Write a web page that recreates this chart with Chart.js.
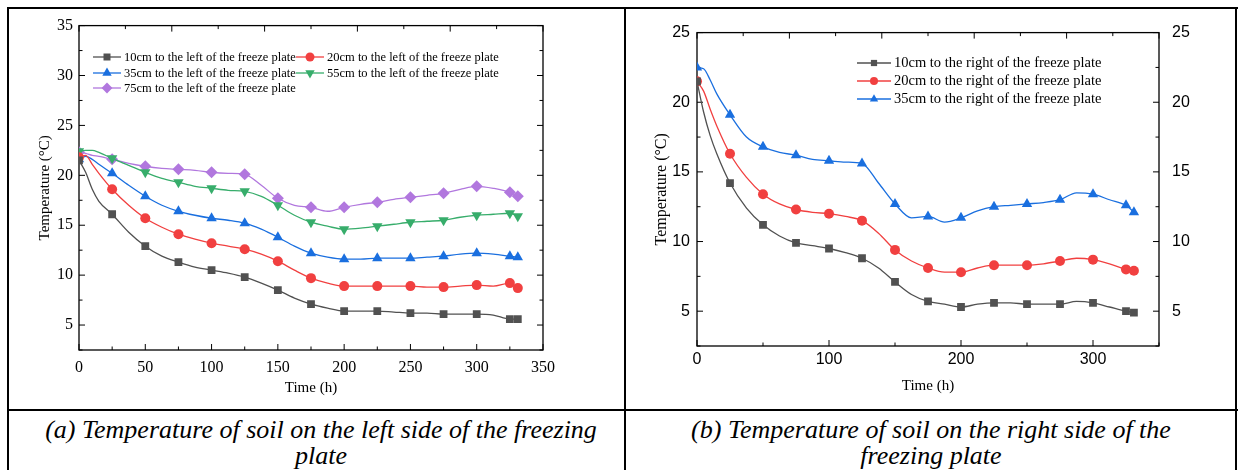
<!DOCTYPE html>
<html>
<head>
<meta charset="utf-8">
<script src="https://cdn.jsdelivr.net/npm/chart.js@4.4.1/dist/chart.umd.min.js"></script>
<style>
  body { margin: 0; background: #fff; }
  #page { position: relative; width: 1238px; height: 470px; overflow: hidden; background: #fff;
          font-family: "Liberation Serif", "Times New Roman", serif; }
  .hl { position: absolute; background: #000; height: 2px; }
  .vl { position: absolute; background: #000; width: 2px; }
  .cap { position: absolute; top: 417px; font-style: italic; font-size: 26px; line-height: 26px; text-align: center; color: #000; }
  #boxA { position: absolute; left: 10px; top: 10px; width: 612px; height: 398px; }
  #boxB { position: absolute; left: 627px; top: 10px; width: 608px; height: 398px; }
</style>
</head>
<body>
<div id="page">
  <div class="hl" style="left:8px;top:7px;width:1230px"></div>
  <div class="hl" style="left:8px;top:409px;width:1230px"></div>
  <div class="vl" style="left:7px;top:7px;height:463px"></div>
  <div class="vl" style="left:624px;top:7px;height:463px"></div>
  <div class="vl" style="left:1235px;top:7px;height:463px"></div>
  <div id="boxA"><canvas id="chartA" width="612" height="398"></canvas></div>
  <div id="boxB"><canvas id="chartB" width="608" height="398"></canvas></div>
  <div class="cap" style="left:14px;width:614px">(a) Temperature of soil on the left side of the freezing<br>plate</div>
  <div class="cap" style="left:627px;width:608px">(b) Temperature of soil on the right side of the<br>freezing plate</div>
</div>
<script>
// sampling times (h), shared by all curves
const hours = [0, 5, 10, 15, 25, 37.5, 50, 62.5, 75, 87.5, 100, 112.5, 125, 137.5, 150, 162.5, 175, 187.5, 200, 212.5, 225, 237.5, 250, 262.5, 275, 287.5, 300, 312.5, 325, 331];

// (a) left side of the freezing plate
const left10 = [21.5, 20.3, 18.6, 17.4, 16.1, 14.3, 12.9, 11.9, 11.3, 10.8, 10.5, 10.2, 9.8, 9.2, 8.5, 7.7, 7.1, 6.7, 6.4, 6.4, 6.4, 6.3, 6.2, 6.2, 6.1, 6.1, 6.1, 6.0, 5.6, 5.6];
const left20 = [21.8, 22.0, 21.1, 20.2, 18.6, 17.0, 15.7, 14.8, 14.1, 13.6, 13.2, 12.9, 12.6, 12.1, 11.4, 10.5, 9.7, 9.2, 8.9, 8.9, 8.9, 8.9, 8.9, 8.8, 8.8, 8.9, 9.0, 8.9, 9.2, 8.7];
const left35 = [21.6, 21.9, 21.6, 21.1, 20.2, 19.0, 17.9, 17.0, 16.4, 16.0, 15.7, 15.5, 15.2, 14.6, 13.8, 12.9, 12.2, 11.8, 11.6, 11.6, 11.7, 11.7, 11.7, 11.8, 11.9, 12.1, 12.2, 12.1, 11.9, 11.8];
const left55 = [22.4, 22.5, 22.5, 22.3, 21.7, 21.0, 20.3, 19.7, 19.3, 18.9, 18.7, 18.5, 18.4, 17.9, 17.0, 16.0, 15.3, 14.9, 14.6, 14.7, 14.9, 15.1, 15.3, 15.4, 15.5, 15.8, 16.0, 16.1, 16.2, 15.9];
const left75 = [22.3, 22.2, 22.0, 21.9, 21.6, 21.2, 20.9, 20.7, 20.6, 20.5, 20.3, 20.2, 20.1, 19.0, 17.7, 17.0, 16.8, 16.4, 16.8, 17.1, 17.3, 17.6, 17.8, 18.0, 18.2, 18.6, 18.9, 18.7, 18.3, 17.9];

// (b) right side of the freezing plate
const right10 = [21.5, 19.3, 17.6, 16.3, 14.2, 12.4, 11.2, 10.4, 9.9, 9.7, 9.5, 9.2, 8.8, 8.1, 7.1, 6.2, 5.7, 5.5, 5.3, 5.5, 5.6, 5.6, 5.5, 5.5, 5.5, 5.7, 5.6, 5.3, 5.0, 4.9];
const right20 = [21.5, 20.8, 19.5, 18.3, 16.3, 14.6, 13.4, 12.7, 12.3, 12.1, 12.0, 11.8, 11.5, 10.6, 9.4, 8.6, 8.1, 7.8, 7.8, 8.1, 8.3, 8.3, 8.3, 8.4, 8.6, 8.8, 8.7, 8.4, 8.0, 7.9];
const right35 = [22.5, 22.4, 21.6, 20.6, 19.1, 17.5, 16.8, 16.4, 16.2, 15.9, 15.8, 15.7, 15.6, 14.2, 12.7, 11.7, 11.8, 11.4, 11.7, 12.2, 12.5, 12.6, 12.7, 12.8, 13.0, 13.5, 13.4, 13.0, 12.6, 12.1];

const leftNames = ['10cm to the left of the freeze plate', '20cm to the left of the freeze plate',
                   '35cm to the left of the freeze plate', '55cm to the left of the freeze plate',
                   '75cm to the left of the freeze plate'];
const rightNames = ['10cm to the right of the freeze plate', '20cm to the right of the freeze plate',
                    '35cm to the right of the freeze plate'];

const SERIF = '"Liberation Serif", "Times New Roman", serif';
const SANS = '"Liberation Sans", Arial, sans-serif';

const styles = [
  { color: '#515151', pointStyle: 'rect', r: 5.5, rot: 0 },
  { color: '#f14040', pointStyle: 'circle', r: 5, rot: 0 },
  { color: '#1a6fdf', pointStyle: 'triangle', r: 6, rot: 0 },
  { color: '#37ad6b', pointStyle: 'triangle', r: 6, rot: 180 },
  { color: '#b177de', pointStyle: 'rectRot', r: 6, rot: 0 }
];

// markers every 25 h plus the last reading
const hasMarker = i => hours[i] % 25 === 0 || i === hours.length - 1;

function series(name, values, st) {
  return {
    label: name,
    data: hours.map((h, i) => ({ x: h, y: values[i] })),
    borderColor: st.color,
    backgroundColor: st.color,
    borderWidth: 1.3,
    pointStyle: st.pointStyle,
    rotation: st.rot,
    pointBorderWidth: 0,
    pointRadius: c => hasMarker(c.dataIndex) ? st.r : 0,
    pointHoverRadius: 0,
    cubicInterpolationMode: 'monotone'
  };
}

// box round the plot with inward ticks on all four sides
const framePlugin = {
  id: 'frame',
  beforeDatasetsDraw(chart, args, o) {
    const { ctx, chartArea: a, scales } = chart;
    const x = scales.x, y = scales.y;
    ctx.save();
    ctx.strokeStyle = '#000';
    ctx.lineWidth = 1.3;
    ctx.strokeRect(a.left, a.top, a.right - a.left, a.bottom - a.top);
    ctx.lineWidth = 1;
    const seg = (x1, y1, x2, y2) => { ctx.beginPath(); ctx.moveTo(x1, y1); ctx.lineTo(x2, y2); ctx.stroke(); };
    const near = (v, s) => Math.abs(v / s - Math.round(v / s)) < 1e-6;
    for (let v = x.min; v <= x.max + 1e-6; v += o.xMinor) {
      const px = x.getPixelForValue(v), len = near(v, o.xMajor) ? 6 : 3.5;
      seg(px, a.bottom, px, a.bottom - len);
    }
    for (let v = x.min; v <= x.max + 1e-6; v += o.topMinor) {
      const px = x.getPixelForValue(v), len = near(v, o.topMajor) ? 6 : 3.5;
      seg(px, a.top, px, a.top + len);
    }
    for (let v = y.min; v <= y.max + 1e-6; v += o.yMinor) {
      const py = y.getPixelForValue(v), len = near(v, o.yMajor) ? 6 : 3.5;
      seg(a.left, py, a.left + len, py);
      seg(a.right, py, a.right - len, py);
    }
    ctx.restore();
  }
};

// legend drawn inside the plot
const innerLegend = {
  id: 'innerLegend',
  afterDraw(chart, args, o) {
    const { ctx } = chart;
    ctx.save();
    ctx.font = o.fontSize + 'px ' + SERIF;
    ctx.textBaseline = 'middle';
    ctx.fillStyle = '#000';
    chart.data.datasets.forEach((ds, i) => {
      const pos = o.items[i];
      const st = styles[i];
      ctx.strokeStyle = st.color;
      ctx.lineWidth = 1.3;
      ctx.beginPath();
      ctx.moveTo(pos[0], pos[1]);
      ctx.lineTo(pos[0] + o.lineLen, pos[1]);
      ctx.stroke();
      ctx.fillStyle = st.color;
      Chart.helpers.drawPoint(ctx, { pointStyle: st.pointStyle, rotation: st.rot, radius: st.r * o.markScale, borderWidth: 0 },
        pos[0] + o.lineLen / 2, pos[1]);
      ctx.fillStyle = '#000';
      ctx.fillText(ds.label, pos[0] + o.lineLen + 3, pos[1] + 0.5);
    });
    ctx.restore();
  }
};

Chart.register(framePlugin, innerLegend);
Chart.defaults.color = '#000';

new Chart(document.getElementById('chartA'), {
  type: 'line',
  data: {
    datasets: [
      series(leftNames[0], left10, styles[0]),
      series(leftNames[1], left20, styles[1]),
      series(leftNames[2], left35, styles[2]),
      series(leftNames[3], left55, styles[3]),
      series(leftNames[4], left75, styles[4])
    ]
  },
  options: {
    responsive: false,
    animation: false,
    devicePixelRatio: 1,
    layout: { padding: { left: 0, right: 79, top: 15, bottom: 0 } },
    scales: {
      x: {
        type: 'linear', min: 0, max: 350,
        ticks: { stepSize: 50, padding: 8, maxRotation: 0, font: { family: SERIF, size: 16 } },
        grid: { display: false, drawTicks: false },
        border: { display: false },
        title: { display: true, text: 'Time (h)', font: { family: SERIF, size: 15 }, padding: { top: 0, bottom: 11 } },
        afterFit: s => { s.height = 58; }
      },
      y: {
        min: 2.5, max: 35,
        ticks: { stepSize: 5, padding: 6, includeBounds: false, font: { family: SERIF, size: 16 } },
        grid: { display: false, drawTicks: false },
        border: { display: false },
        title: { display: true, text: 'Temperature (°C)', font: { family: SERIF, size: 15 }, padding: { top: 26, bottom: 0 } },
        afterFit: s => { s.width = 69; }
      }
    },
    plugins: {
      legend: { display: false },
      tooltip: { enabled: false },
      frame: { xMinor: 25, xMajor: 50, topMinor: 35, topMajor: 70, yMinor: 2.5, yMajor: 5 },
      innerLegend: {
        fontSize: 12.5, lineLen: 28, markScale: 0.9,
        items: [[83, 47], [286, 47], [83, 63], [286, 63], [83, 78]]
      }
    }
  }
});

new Chart(document.getElementById('chartB'), {
  type: 'line',
  data: {
    datasets: [
      series(rightNames[0], right10, styles[0]),
      series(rightNames[1], right20, styles[1]),
      series(rightNames[2], right35, styles[2])
    ]
  },
  options: {
    responsive: false,
    animation: false,
    devicePixelRatio: 1,
    layout: { padding: { left: 0, right: 0, top: 15, bottom: 0 } },
    scales: {
      x: {
        type: 'linear', min: 0, max: 350,
        ticks: { stepSize: 100, padding: 4, includeBounds: false, maxRotation: 0, font: { family: SANS, size: 16 } },
        grid: { display: false, drawTicks: false },
        border: { display: false },
        title: { display: true, text: 'Time (h)', font: { family: SERIF, size: 15 }, padding: { top: 0, bottom: 13 } },
        afterFit: s => { s.height = 62; }
      },
      y: {
        min: 2.5, max: 25,
        ticks: { stepSize: 5, padding: 7, includeBounds: false, font: { family: SANS, size: 16 } },
        grid: { display: false, drawTicks: false },
        border: { display: false },
        title: { display: true, text: 'Temperature (°C)', font: { family: SERIF, size: 16 }, padding: { top: 25, bottom: 0 } },
        afterFit: s => { s.width = 70; }
      },
      y2: {
        position: 'right', min: 2.5, max: 25,
        ticks: { stepSize: 5, padding: 13, includeBounds: false, font: { family: SANS, size: 16 } },
        grid: { display: false, drawTicks: false },
        border: { display: false },
        afterFit: s => { s.width = 76; }
      }
    },
    plugins: {
      legend: { display: false },
      tooltip: { enabled: false },
      frame: { xMinor: 50, xMajor: 100, topMinor: 35, topMajor: 70, yMinor: 2.5, yMajor: 5 },
      innerLegend: {
        fontSize: 14.5, lineLen: 34, markScale: 0.8,
        items: [[230, 53], [230, 71], [230, 89]]
      }
    }
  }
});
</script>
</body>
</html>
